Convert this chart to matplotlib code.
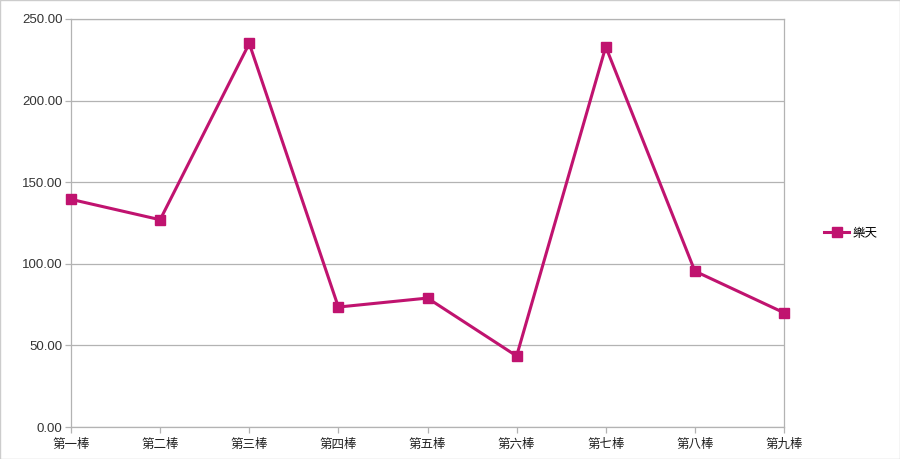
import matplotlib
matplotlib.use("Agg")
import matplotlib.pyplot as plt

plt.rcParams['font.family'] = ['Noto Sans CJK TC', 'DejaVu Sans']

# 数据
categories = ["第一棒", "第二棒", "第三棒", "第四棒", "第五棒", "第六棒", "第七棒", "第八棒", "第九棒"]
values = [139.5, 127, 235, 73.5, 79, 43.5, 233, 95.5, 70]
series_name = "樂天"
color = "#c0136f"

fig = plt.figure(figsize=(9, 4.59), dpi=100)
ax = fig.add_axes([71 / 900, 1 - 427 / 459, (784 - 71) / 900, (427 - 19) / 459])

x = list(range(len(categories)))
ax.plot(x, values, color=color, linewidth=2.2, marker="s", markersize=7,
        label=series_name, zorder=3, clip_on=False)

ax.set_xlim(0, len(categories) - 1)
ax.set_ylim(0, 250)
ax.set_yticks([0, 50, 100, 150, 200, 250])
ax.set_yticklabels(["%.2f" % v for v in [0, 50, 100, 150, 200, 250]],
                   family="Liberation Sans", fontsize=9.5, color="#333333")
ax.set_xticks(x)
ax.set_xticklabels(categories, fontsize=9, color="#222222")
ax.grid(axis="y", color="#b3b3b3", linewidth=0.9)
ax.set_axisbelow(True)
for s in ax.spines.values():
    s.set_color("#b3b3b3")
    s.set_linewidth(0.9)
ax.tick_params(axis="both", color="#b3b3b3", length=4, width=0.9, pad=2)
ax.tick_params(axis="x", pad=4)

fig.legend(loc="center left", bbox_to_anchor=(818 / 900, 1 - 233 / 459), frameon=False,
           fontsize=9, handlelength=2.0, handletextpad=0.3, borderpad=0)

# 外框
fig.patches.append(plt.Rectangle((0, 0), 1, 1, transform=fig.transFigure,
                                 fill=False, edgecolor="#cccccc", linewidth=1))

fig.savefig("out.png", dpi=100)
